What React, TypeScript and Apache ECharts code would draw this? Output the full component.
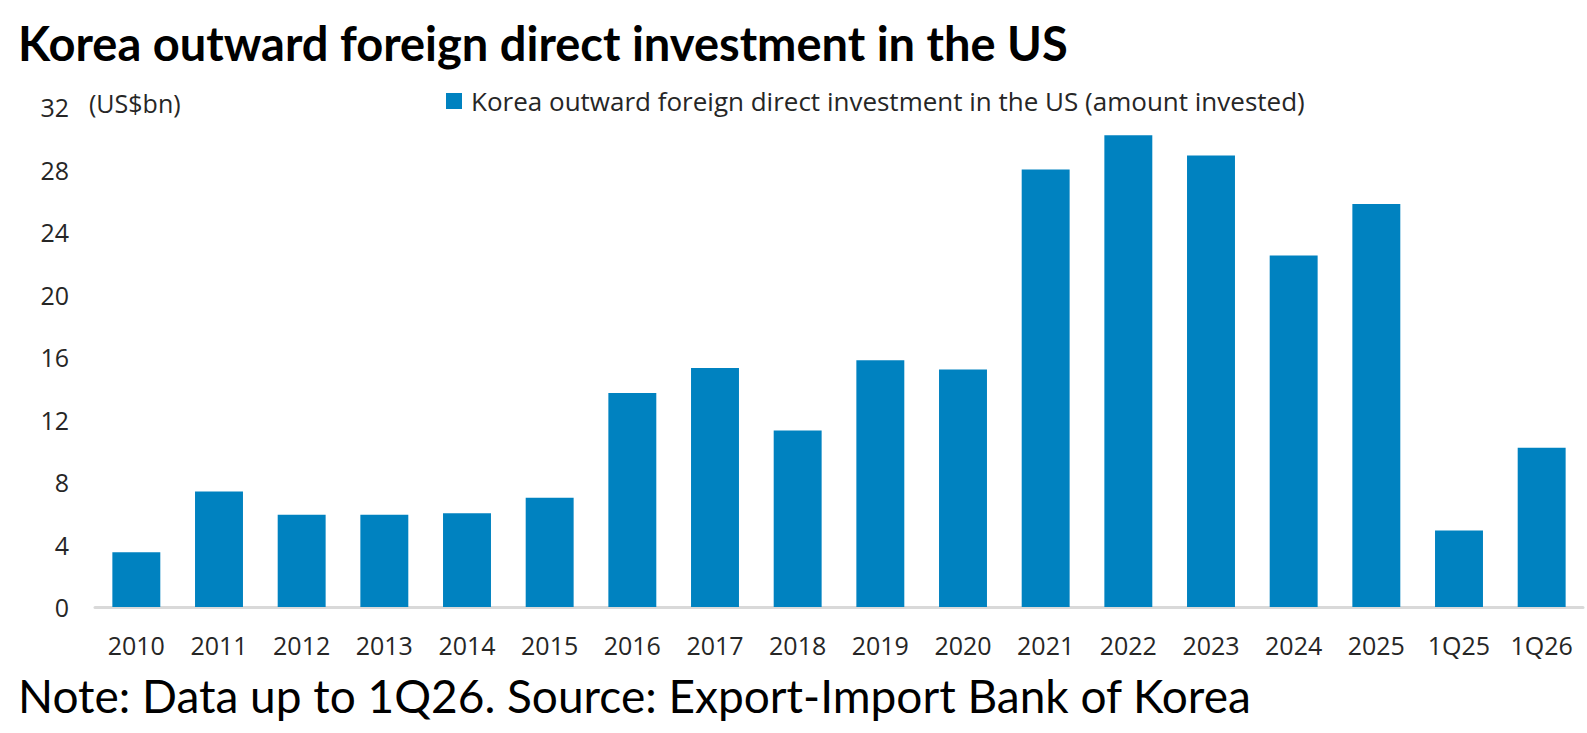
import React, { useEffect, useRef } from "react";
import * as echarts from "echarts";

const categories = ["2010", "2011", "2012", "2013", "2014", "2015", "2016", "2017", "2018", "2019", "2020", "2021", "2022", "2023", "2024", "2025", "1Q25", "1Q26"];
const investment = [3.5, 7.4, 5.9, 5.9, 6.0, 7.0, 13.7, 15.3, 11.3, 15.8, 15.2, 28.0, 30.2, 28.9, 22.5, 25.8, 4.9, 10.2];
const yTicks = { min: 0, max: 32, interval: 4 };
const titleText = "Korea outward foreign direct investment in the US";
const seriesName = "Korea outward foreign direct investment in the US (amount invested)";
const unitText = "(US$bn)";
const noteText = "Note: Data up to 1Q26. Source: Export-Import Bank of Korea";

const LABEL_FONT = "'Open Sans', 'Noto Sans', sans-serif";
const TITLE_FONT = "Lato, 'Open Sans', sans-serif";

export default function App() {
  const ref = useRef<HTMLDivElement>(null);
  useEffect(() => {
    if (!ref.current) return;
    const chart = echarts.init(ref.current, null, { renderer: "svg" });
    chart.setOption({
      animation: false,
      backgroundColor: "#ffffff",
      grid: { left: 95, right: 4, top: 107, bottom: 126, containLabel: false },
      legend: {
        show: true,
        left: 446,
        top: 88,
        padding: 0,
        itemWidth: 16,
        itemHeight: 16,
        icon: "rect",
        textStyle: { fontFamily: LABEL_FONT, fontSize: 26, color: "#262626", padding: [0, 0, 0, 4] },
        data: [seriesName],
      },
      graphic: [
        {
          type: "text",
          left: 18,
          top: 19,
          style: { text: titleText, fontFamily: TITLE_FONT, fontWeight: "bold", fontSize: 47, fill: "#000000" },
        },
        {
          type: "text",
          left: 89,
          top: 90,
          style: { text: unitText, fontFamily: LABEL_FONT, fontSize: 25, fill: "#262626" },
        },
        {
          type: "text",
          left: 18,
          top: 672,
          style: { text: noteText, fontFamily: TITLE_FONT, fontSize: 46, fill: "#000000" },
        },
      ],
      xAxis: {
        type: "category",
        data: categories,
        axisLine: { lineStyle: { color: "#d9d9d9", width: 3 } },
        axisTick: { show: false },
        axisLabel: { fontFamily: LABEL_FONT, fontSize: 25, color: "#262626", margin: 25, interval: 0 },
      },
      yAxis: {
        type: "value",
        min: yTicks.min,
        max: yTicks.max,
        interval: yTicks.interval,
        splitLine: { show: false },
        axisLine: { show: false },
        axisTick: { show: false },
        axisLabel: { fontFamily: LABEL_FONT, fontSize: 25, color: "#262626", margin: 26 },
      },
      series: [
        {
          name: seriesName,
          type: "bar",
          data: investment,
          barCategoryGap: "42%",
          itemStyle: { color: "#0082c0" },
        },
      ],
    });
    return () => chart.dispose();
  }, []);
  return <div ref={ref} style={{ position: "absolute", left: 0, top: 0, width: 1587, height: 733 }} />;
}
